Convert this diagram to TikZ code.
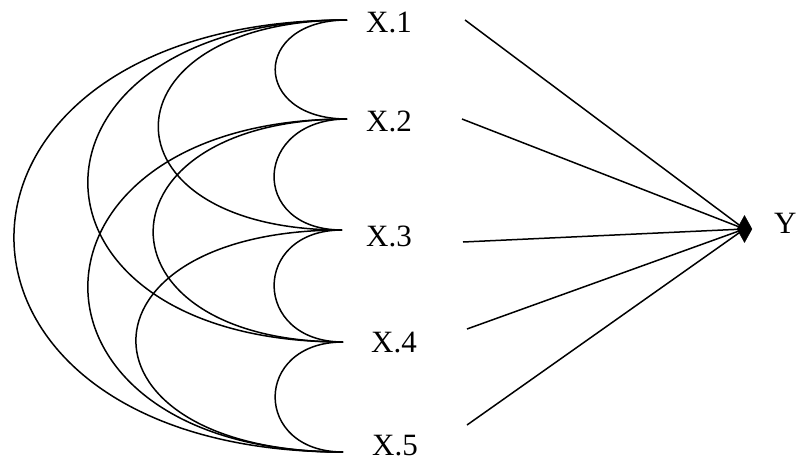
\documentclass[tikz,border=0pt]{standalone}
\usepackage{fontspec}
\setmainfont{Liberation Serif}
\usetikzlibrary{shapes.geometric}
\tikzset{
  lbl/.style={inner sep=0pt, anchor=base west, font=\fontsize{31}{37}\selectfont},
  arcline/.style={line width=1.5pt},
  ray/.style={line width=1.5pt},
  tiphead/.style={diamond, fill=black, draw=black, line width=0.5pt, inner sep=0pt,
                  minimum width=15pt, minimum height=27pt, aspect=0.55}
}
\begin{document}
\begin{tikzpicture}[x=1pt,y=-1pt]
\useasboundingbox (0,0) rectangle (796,464);
% arc end points
\coordinate (e1) at (347,20);
\coordinate (e2) at (347,119);
\coordinate (e3) at (342,230);
\coordinate (e4) at (343,342);
\coordinate (e5) at (343,452);
% labels
\node[lbl] (x1) at (366,32) {X.1};
\node[lbl] (x2) at (366,131) {X.2};
\node[lbl] (x3) at (366,246) {X.3};
\node[lbl] (x4) at (371,352) {X.4};
\node[lbl] (x5) at (372,455) {X.5};
\node[lbl] (y) at (774,233) {Y};
% ray starts and meeting point
\coordinate (s1) at (465,20);
\coordinate (s2) at (462,119);
\coordinate (s3) at (463,242);
\coordinate (s4) at (467,329);
\coordinate (s5) at (467,425);
\node[tiphead] (tip) at (744.5,229) {};
% correlation arcs
\draw[arcline] (e1) to[out=180,in=180,looseness=2.48] (e2);
\draw[arcline] (e2) to[out=180,in=180,looseness=2.16] (e3);
\draw[arcline] (e3) to[out=180,in=180,looseness=2.08] (e4);
\draw[arcline] (e4) to[out=180,in=180,looseness=2.11] (e5);
\draw[arcline] (e1) to[out=180,in=180,looseness=3.02] (e3);
\draw[arcline] (e2) to[out=180,in=180,looseness=2.93] (e4);
\draw[arcline] (e3) to[out=180,in=180,looseness=3.17] (e5);
\draw[arcline] (e1) to[out=180,in=180,looseness=2.72] (e4);
\draw[arcline] (e2) to[out=180,in=180,looseness=2.63] (e5);
\draw[arcline] (e1) to[out=180,in=180,looseness=2.61] (e5);
% rays to Y
\draw[ray] (s1) -- (tip.center);
\draw[ray] (s2) -- (tip.center);
\draw[ray] (s3) -- (tip.center);
\draw[ray] (s4) -- (tip.center);
\draw[ray] (s5) -- (tip.center);
\end{tikzpicture}
\end{document}
